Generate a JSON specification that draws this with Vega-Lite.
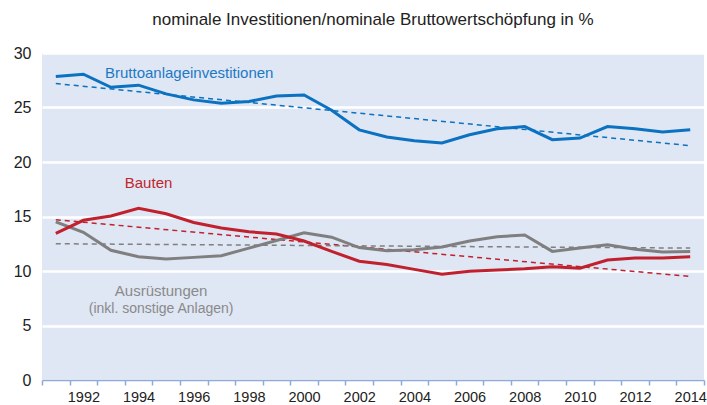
{
  "$schema": "https://vega.github.io/schema/vega-lite/v6.json",
  "width": 662,
  "height": 327,
  "autosize": {"type": "none"},
  "padding": {"left": 42, "top": 53, "right": 3, "bottom": 25},
  "background": "white",
  "config": {
    "font": "Liberation Sans",
    "view": {"fill": "#dfe6f4", "stroke": null}
  },
  "title": {
    "text": "nominale Investitionen/nominale Bruttowertschöpfung in %",
    "fontSize": 17,
    "fontWeight": "normal",
    "color": "#222222",
    "offset": 16,
    "anchor": "middle"
  },
  "datasets": {
    "series": [
      {"year": 1991, "series": "Brutto", "value": 27.85},
      {"year": 1992, "series": "Brutto", "value": 28.05},
      {"year": 1993, "series": "Brutto", "value": 26.85},
      {"year": 1994, "series": "Brutto", "value": 27.05},
      {"year": 1995, "series": "Brutto", "value": 26.25},
      {"year": 1996, "series": "Brutto", "value": 25.7},
      {"year": 1997, "series": "Brutto", "value": 25.4},
      {"year": 1998, "series": "Brutto", "value": 25.55},
      {"year": 1999, "series": "Brutto", "value": 26.05},
      {"year": 2000, "series": "Brutto", "value": 26.15},
      {"year": 2001, "series": "Brutto", "value": 24.75},
      {"year": 2002, "series": "Brutto", "value": 22.95},
      {"year": 2003, "series": "Brutto", "value": 22.3},
      {"year": 2004, "series": "Brutto", "value": 21.95},
      {"year": 2005, "series": "Brutto", "value": 21.75},
      {"year": 2006, "series": "Brutto", "value": 22.5},
      {"year": 2007, "series": "Brutto", "value": 23.05},
      {"year": 2008, "series": "Brutto", "value": 23.25},
      {"year": 2009, "series": "Brutto", "value": 22.05},
      {"year": 2010, "series": "Brutto", "value": 22.2},
      {"year": 2011, "series": "Brutto", "value": 23.25},
      {"year": 2012, "series": "Brutto", "value": 23.05},
      {"year": 2013, "series": "Brutto", "value": 22.75},
      {"year": 2014, "series": "Brutto", "value": 22.95},
      {"year": 1991, "series": "Bauten", "value": 13.45},
      {"year": 1992, "series": "Bauten", "value": 14.65},
      {"year": 1993, "series": "Bauten", "value": 15.05},
      {"year": 1994, "series": "Bauten", "value": 15.75},
      {"year": 1995, "series": "Bauten", "value": 15.25},
      {"year": 1996, "series": "Bauten", "value": 14.45},
      {"year": 1997, "series": "Bauten", "value": 13.95},
      {"year": 1998, "series": "Bauten", "value": 13.6},
      {"year": 1999, "series": "Bauten", "value": 13.4},
      {"year": 2000, "series": "Bauten", "value": 12.75},
      {"year": 2001, "series": "Bauten", "value": 11.8},
      {"year": 2002, "series": "Bauten", "value": 10.9},
      {"year": 2003, "series": "Bauten", "value": 10.6},
      {"year": 2004, "series": "Bauten", "value": 10.15},
      {"year": 2005, "series": "Bauten", "value": 9.7},
      {"year": 2006, "series": "Bauten", "value": 9.97},
      {"year": 2007, "series": "Bauten", "value": 10.1},
      {"year": 2008, "series": "Bauten", "value": 10.2},
      {"year": 2009, "series": "Bauten", "value": 10.4},
      {"year": 2010, "series": "Bauten", "value": 10.25},
      {"year": 2011, "series": "Bauten", "value": 11.0},
      {"year": 2012, "series": "Bauten", "value": 11.2},
      {"year": 2013, "series": "Bauten", "value": 11.2},
      {"year": 2014, "series": "Bauten", "value": 11.3},
      {"year": 1991, "series": "Ausr", "value": 14.5},
      {"year": 1992, "series": "Ausr", "value": 13.55},
      {"year": 1993, "series": "Ausr", "value": 11.9},
      {"year": 1994, "series": "Ausr", "value": 11.3},
      {"year": 1995, "series": "Ausr", "value": 11.1},
      {"year": 1996, "series": "Ausr", "value": 11.25},
      {"year": 1997, "series": "Ausr", "value": 11.4},
      {"year": 1998, "series": "Ausr", "value": 12.1},
      {"year": 1999, "series": "Ausr", "value": 12.8},
      {"year": 2000, "series": "Ausr", "value": 13.5},
      {"year": 2001, "series": "Ausr", "value": 13.1},
      {"year": 2002, "series": "Ausr", "value": 12.15},
      {"year": 2003, "series": "Ausr", "value": 11.85},
      {"year": 2004, "series": "Ausr", "value": 11.95},
      {"year": 2005, "series": "Ausr", "value": 12.2},
      {"year": 2006, "series": "Ausr", "value": 12.75},
      {"year": 2007, "series": "Ausr", "value": 13.15},
      {"year": 2008, "series": "Ausr", "value": 13.3},
      {"year": 2009, "series": "Ausr", "value": 11.8},
      {"year": 2010, "series": "Ausr", "value": 12.1},
      {"year": 2011, "series": "Ausr", "value": 12.4},
      {"year": 2012, "series": "Ausr", "value": 12.0},
      {"year": 2013, "series": "Ausr", "value": 11.75},
      {"year": 2014, "series": "Ausr", "value": 11.8}
    ],
    "trends": [
      {"year": 1991, "series": "Brutto", "value": 27.2},
      {"year": 2014, "series": "Brutto", "value": 21.5},
      {"year": 1991, "series": "Bauten", "value": 14.7},
      {"year": 2014, "series": "Bauten", "value": 9.5},
      {"year": 1991, "series": "Ausr", "value": 12.5},
      {"year": 2014, "series": "Ausr", "value": 12.1}
    ],
    "labels": [
      {"key": "a", "year": 1993, "value": 28.2, "series": "Brutto", "text": "Bruttoanlageinvestitionen"},
      {"key": "b", "year": 1994, "value": 18.1, "series": "Bauten", "text": "Bauten"},
      {"key": "c", "year": 1995, "value": 8.17, "series": "Ausr", "text": "Ausrüstungen"},
      {"key": "d", "year": 1995, "value": 6.49, "series": "Ausr", "text": "(inkl. sonstige Anlagen)"}
    ]
  },
  "encoding": {
    "x": {
      "field": "year",
      "type": "ordinal",
      "scale": {"domain": [1991,1992,1993,1994,1995,1996,1997,1998,1999,2000,2001,2002,2003,2004,2005,2006,2007,2008,2009,2010,2011,2012,2013,2014], "paddingInner": 0, "paddingOuter": 0},
      "axis": {
        "title": null,
        "labelAngle": 0,
        "tickBand": "extent",
        "labelExpr": "datum.value % 2 == 0 ? datum.label : ''",
        "domainColor": "#8eaadb",
        "tickColor": "#8eaadb",
        "domainWidth": 1.5,
        "tickWidth": 1.5,
        "tickSize": 5,
        "labelFontSize": 14.5,
        "labelColor": "#222222",
        "labelPadding": 5,
        "grid": false
      }
    },
    "y": {
      "field": "value",
      "type": "quantitative",
      "scale": {"domain": [0, 30], "nice": false, "zero": true},
      "axis": {
        "title": null,
        "values": [0, 5, 10, 15, 20, 25, 30],
        "domain": false,
        "ticks": false,
        "grid": true,
        "gridColor": "white",
        "gridWidth": 2.5,
        "gridOpacity": 1,
        "labelFontSize": 16,
        "labelColor": "#222222",
        "labelPadding": 11
      }
    },
    "color": {
      "field": "series",
      "type": "nominal",
      "scale": {"domain": ["Brutto", "Bauten", "Ausr"], "range": ["#0a72c0", "#c0212d", "#7f7f7f"]},
      "legend": null
    }
  },
  "layer": [
    {
      "data": {"name": "trends"},
      "mark": {"type": "line", "strokeWidth": 1.5, "strokeDash": [5, 4]},
      "encoding": {"detail": {"field": "series"}}
    },
    {
      "data": {"name": "series"},
      "transform": [{"filter": "datum.series == 'Ausr'"}],
      "mark": {"type": "line", "strokeWidth": 3}
    },
    {
      "data": {"name": "series"},
      "transform": [{"filter": "datum.series == 'Bauten'"}],
      "mark": {"type": "line", "strokeWidth": 3}
    },
    {
      "data": {"name": "series"},
      "transform": [{"filter": "datum.series == 'Brutto'"}],
      "mark": {"type": "line", "strokeWidth": 3}
    },
    {
      "data": {"name": "labels"},
      "transform": [{"filter": "datum.key == 'a'"}],
      "mark": {"type": "text", "align": "left", "baseline": "middle", "dx": -6, "fontSize": 15},
      "encoding": {"text": {"field": "text"}, "color": {"value": "#1c79c4"}}
    },
    {
      "data": {"name": "labels"},
      "transform": [{"filter": "datum.key == 'b'"}],
      "mark": {"type": "text", "align": "center", "baseline": "middle", "dx": 10, "fontSize": 15},
      "encoding": {"text": {"field": "text"}, "color": {"value": "#c0272d"}}
    },
    {
      "data": {"name": "labels"},
      "transform": [{"filter": "datum.key == 'c'"}],
      "mark": {"type": "text", "align": "center", "baseline": "middle", "dx": -5, "fontSize": 15},
      "encoding": {"text": {"field": "text"}, "color": {"value": "#8a8a8a"}}
    },
    {
      "data": {"name": "labels"},
      "transform": [{"filter": "datum.key == 'd'"}],
      "mark": {"type": "text", "align": "center", "baseline": "middle", "dx": -5, "fontSize": 14},
      "encoding": {"text": {"field": "text"}, "color": {"value": "#8a8a8a"}}
    }
  ]
}
